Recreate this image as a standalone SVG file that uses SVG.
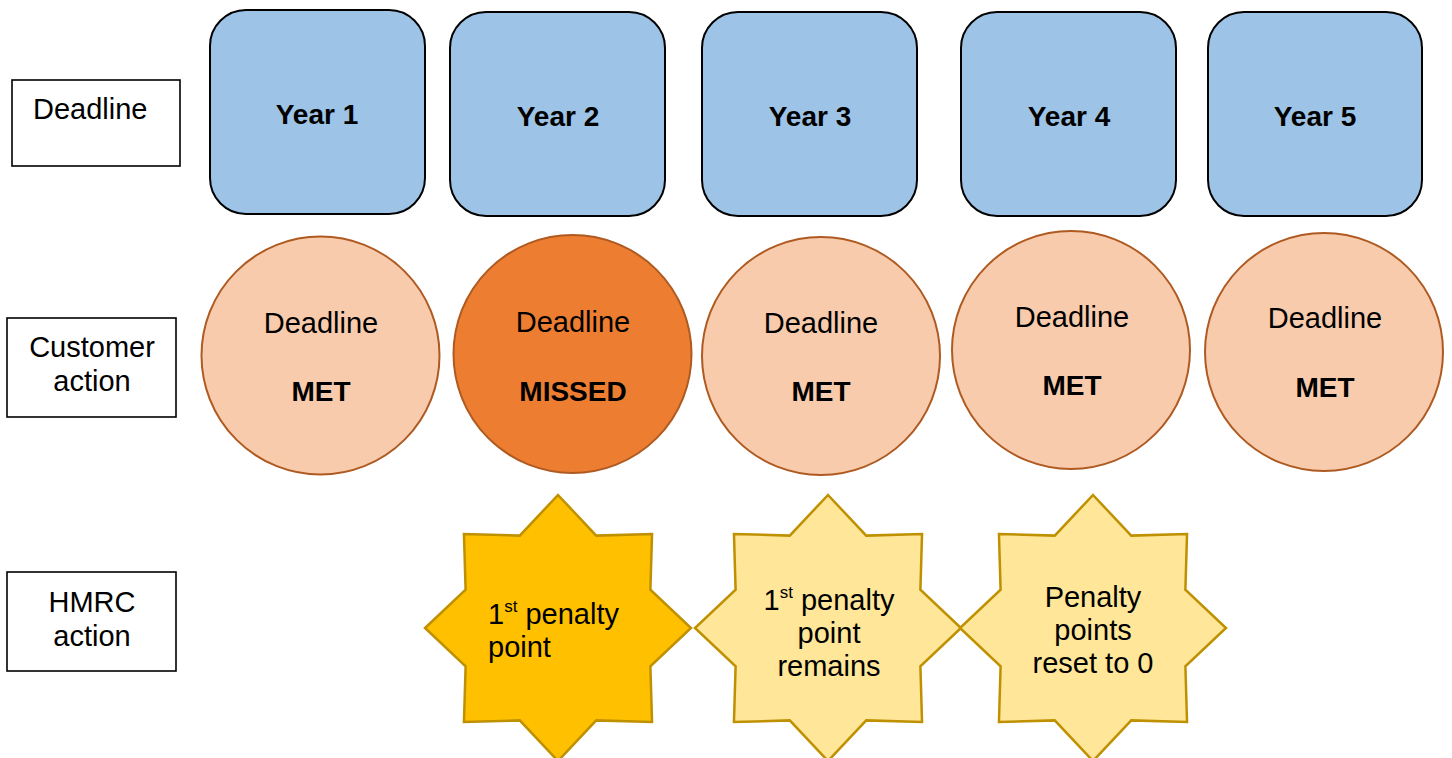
<svg xmlns="http://www.w3.org/2000/svg" width="1452" height="758" viewBox="0 0 1452 758">
  <style>
    text { font-family: "Liberation Sans", Arial, sans-serif; fill: #000; }
    .lbl { font-size: 29px; }
    .reg { font-size: 29px; text-anchor: middle; }
    .bold { font-size: 28px; font-weight: bold; text-anchor: middle; }
    .sup { font-size: 17px; }
    .rowlabel { fill: #fff; stroke: #000; stroke-width: 1.6; }
    .year { fill: #9DC3E6; stroke: #000; stroke-width: 2; }
    .met { fill: #F8CBAD; stroke: #AE5A21; stroke-width: 2; }
    .missed { fill: #ED7D31; stroke: #AE5A21; stroke-width: 2; }
    .star { stroke: #BF9000; stroke-width: 2.5; stroke-linejoin: miter; }
    .star-strong { fill: #FFC000; }
    .star-soft { fill: #FFE699; }
  </style>
  <defs>
    <!-- eight-point star, outer radius 133, inner radius 100 -->
    <polygon id="star8" points="0,-133 38.27,-92.39 94.05,-94.05 92.39,-38.27 133,0 92.39,38.27 94.05,94.05 38.27,92.39 0,133 -38.27,92.39 -94.05,94.05 -92.39,38.27 -133,0 -92.39,-38.27 -94.05,-94.05 -38.27,-92.39"/>
  </defs>

  <!-- row labels -->
  <g id="label-deadline">
    <rect class="rowlabel" x="12" y="80" width="168" height="86"/>
    <text class="lbl" x="33" y="119">Deadline</text>
  </g>
  <g id="label-customer">
    <rect class="rowlabel" x="7" y="318" width="169" height="99"/>
    <text class="lbl" x="92" y="357" text-anchor="middle">Customer</text>
    <text class="lbl" x="92" y="391" text-anchor="middle">action</text>
  </g>
  <g id="label-hmrc">
    <rect class="rowlabel" x="7" y="572" width="169" height="99"/>
    <text class="lbl" x="92" y="612" text-anchor="middle">HMRC</text>
    <text class="lbl" x="92" y="646" text-anchor="middle">action</text>
  </g>

  <!-- year boxes -->
  <g id="year1">
    <rect class="year" x="210" y="10" width="215" height="204" rx="36"/>
    <text class="bold" x="317" y="124">Year 1</text>
  </g>
  <g id="year2">
    <rect class="year" x="450" y="12" width="215" height="204" rx="36"/>
    <text class="bold" x="558" y="126">Year 2</text>
  </g>
  <g id="year3">
    <rect class="year" x="702" y="12" width="215" height="204" rx="36"/>
    <text class="bold" x="810" y="126">Year 3</text>
  </g>
  <g id="year4">
    <rect class="year" x="961" y="12" width="215" height="204" rx="36"/>
    <text class="bold" x="1069" y="126">Year 4</text>
  </g>
  <g id="year5">
    <rect class="year" x="1208" y="12" width="214" height="204" rx="36"/>
    <text class="bold" x="1315" y="126">Year 5</text>
  </g>

  <!-- customer action circles -->
  <g id="action1">
    <circle class="met" cx="320.5" cy="355.5" r="119"/>
    <text class="reg" x="321" y="333">Deadline</text>
    <text class="bold" x="321" y="401">MET</text>
  </g>
  <g id="action2">
    <circle class="missed" cx="572.5" cy="354" r="119"/>
    <text class="reg" x="573" y="332">Deadline</text>
    <text class="bold" x="573" y="401">MISSED</text>
  </g>
  <g id="action3">
    <circle class="met" cx="821" cy="356" r="119"/>
    <text class="reg" x="821" y="333">Deadline</text>
    <text class="bold" x="821" y="401">MET</text>
  </g>
  <g id="action4">
    <circle class="met" cx="1071" cy="350" r="119"/>
    <text class="reg" x="1072" y="327">Deadline</text>
    <text class="bold" x="1072" y="395">MET</text>
  </g>
  <g id="action5">
    <circle class="met" cx="1324" cy="352" r="119"/>
    <text class="reg" x="1325" y="328">Deadline</text>
    <text class="bold" x="1325" y="397">MET</text>
  </g>

  <!-- HMRC action stars -->
  <g id="hmrc2">
    <use href="#star8" class="star star-strong" transform="translate(558,628)"/>
    <text class="lbl" x="488" y="624">1<tspan class="sup" dy="-12">st</tspan><tspan dy="12"> penalty</tspan></text>
    <text class="lbl" x="488" y="657">point</text>
  </g>
  <g id="hmrc3">
    <use href="#star8" class="star star-soft" transform="translate(828,628)"/>
    <text class="lbl" x="829" y="610" text-anchor="middle">1<tspan class="sup" dy="-12">st</tspan><tspan dy="12"> penalty</tspan></text>
    <text class="reg" x="829" y="643">point</text>
    <text class="reg" x="829" y="676">remains</text>
  </g>
  <g id="hmrc4">
    <use href="#star8" class="star star-soft" transform="translate(1093,628)"/>
    <text class="reg" x="1093" y="607">Penalty</text>
    <text class="reg" x="1093" y="640">points</text>
    <text class="reg" x="1093" y="673">reset to 0</text>
  </g>

  <!-- no connectors in this diagram -->
  <g id="connectors"/>
</svg>
